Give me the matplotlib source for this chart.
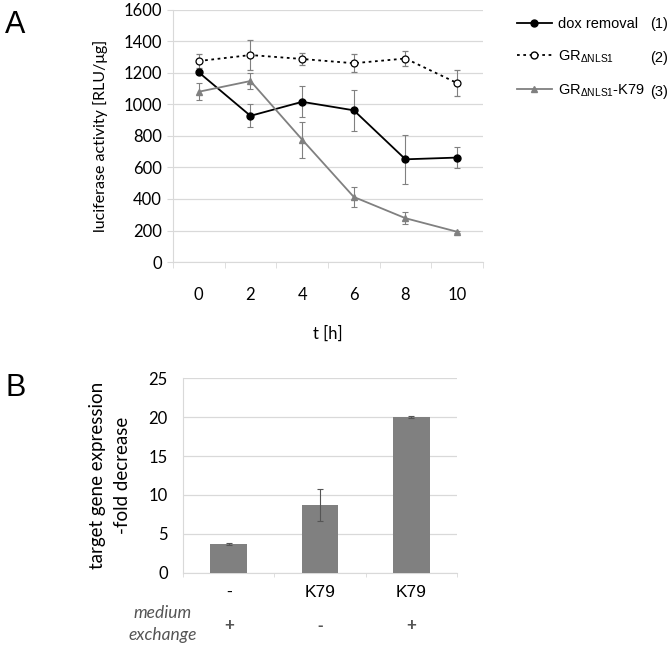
import matplotlib.pyplot as plt
from matplotlib.lines import Line2D

plt.rcParams['mathtext.fontset'] = 'custom'
plt.rcParams['mathtext.rm'] = 'Liberation Sans'
plt.rcParams['mathtext.it'] = 'Liberation Sans:italic'

# panel A data
hours = ['0', '2', '4', '6', '8', '10']
dox = [1204, 928, 1017, 963, 652, 663]
dox_err = [0, 72, 98, 130, 155, 65]
gr = [1276, 1314, 1289, 1262, 1292, 1136]
gr_err = [43, 95, 37, 57, 45, 80]
k79 = [1081, 1149, 777, 413, 278, 192]
k79_err = [55, 50, 115, 66, 38, 8]

# panel B data
bar_labels = ['-', 'K79', 'K79']
exchange = ['+', '-', '+']
fold = [3.7, 8.7, 20.0]
fold_err = [0.1, 2.0, 0.1]

grid_c = '#d9d9d9'
gray = '#808080'
tick_font = 'Lato'
arial = 'Liberation Sans'

fig = plt.figure(figsize=(6.72, 6.49), dpi=100)

# ---------- A ----------
ax = fig.add_axes([0.2574, 0.5963, 0.4613, 0.3883])
x = range(len(hours))
ax.errorbar(x, dox, yerr=dox_err, color='black', marker='o', ms=5, lw=1.3,
            ecolor=gray, elinewidth=0.8, capsize=2.5, capthick=0.8, zorder=3)
ax.errorbar(x, gr, yerr=gr_err, color='black', ls=(0, (1.5, 2)), marker='o', ms=5,
            mfc='white', mec='black', mew=0.9, lw=1.3,
            ecolor=gray, elinewidth=0.8, capsize=2.5, capthick=0.8, zorder=3)
ax.errorbar(x, k79, yerr=k79_err, color=gray, marker='^', ms=5, lw=1.3,
            ecolor=gray, elinewidth=0.8, capsize=2.5, capthick=0.8, zorder=3)

ax.set_xlim(-0.5, len(hours) - 0.5)
ax.set_ylim(0, 1600)
ax.set_yticks(range(0, 1601, 200))
ax.set_xticks(list(x))
ax.set_xticklabels(hours)
ax.set_xticks([i - 0.5 for i in range(len(hours) + 1)], minor=True)
ax.grid(axis='y', color=grid_c, lw=0.9)
ax.set_axisbelow(True)
for s in ['top', 'right']:
    ax.spines[s].set_visible(False)
ax.spines['left'].set_color(grid_c)
ax.spines['bottom'].set_color(grid_c)
ax.tick_params(axis='x', which='major', length=0, pad=18)
ax.tick_params(axis='x', which='minor', length=4, color=grid_c)
ax.tick_params(axis='y', length=4, color=grid_c, pad=4)
for t in ax.get_xticklabels() + ax.get_yticklabels():
    t.set_fontfamily(tick_font)
    t.set_fontsize(12)
ax.set_xlabel('t [h]', fontfamily=tick_font, fontsize=12, labelpad=16)
ax.set_ylabel('luciferase activity [RLU/μg]', fontfamily=tick_font, fontsize=11.5)
ax.yaxis.set_label_coords(-0.21, 0.5)

handles = [
    Line2D([], [], color='black', marker='o', ms=5, lw=1.3),
    Line2D([], [], color='black', ls=(0, (1.5, 2)), marker='o', ms=5, mfc='white', lw=1.3),
    Line2D([], [], color=gray, marker='^', ms=5, lw=1.3),
]
labels = ['dox removal', r'GR$_{\Delta\mathrm{NLS1}}$', r'GR$_{\Delta\mathrm{NLS1}}$-K79']
fig.legend(handles, labels, loc='upper left', bbox_to_anchor=(0.758, 0.985),
           frameon=False, prop={'family': arial, 'size': 10.5},
           handlelength=2.4, handletextpad=0.4, labelspacing=1.2, borderpad=0)
for i, n in enumerate(['(1)', '(2)', '(3)']):
    fig.text(0.967, 1 - (24 + 34 * i) / 649, n, family=arial, size=10.5,
             ha='left', va='center')

fig.text(0.008, 0.985, 'A', family=arial, size=22, va='top')

# ---------- B ----------
bx = fig.add_axes([0.2723, 0.1176, 0.4077, 0.2995])
bx.bar(range(len(fold)), fold, width=0.4, color=gray, zorder=3)
bx.errorbar(range(len(fold)), fold, yerr=fold_err, fmt='none', ecolor='#555555',
            elinewidth=0.8, capsize=2.5, capthick=0.8, zorder=4)
bx.set_xlim(-0.5, len(fold) - 0.5)
bx.set_ylim(0, 25)
bx.set_yticks(range(0, 26, 5))
bx.set_xticks(range(len(fold)))
bx.set_xticklabels(bar_labels, fontfamily=arial, fontsize=12.5)
bx.set_xticks([i - 0.5 for i in range(len(fold) + 1)], minor=True)
bx.grid(axis='y', color=grid_c, lw=0.9)
bx.set_axisbelow(True)
for s in ['top', 'right']:
    bx.spines[s].set_visible(False)
bx.spines['left'].set_color(grid_c)
bx.spines['bottom'].set_color(grid_c)
bx.tick_params(axis='x', which='major', length=0, pad=9)
bx.tick_params(axis='x', which='minor', length=3, color=grid_c)
bx.tick_params(axis='y', length=0, pad=11)
for t in bx.get_yticklabels():
    t.set_fontfamily(tick_font)
    t.set_fontsize(12)
bx.set_ylabel('target gene expression\n-fold decrease', fontfamily=tick_font,
              fontsize=13.5, linespacing=1.6)
bx.yaxis.set_label_coords(-0.19, 0.5)

for i, s in enumerate(exchange):
    bx.text(i, -0.27, s, transform=bx.get_xaxis_transform(), ha='center', va='center',
            family=arial, fontsize=12, color='#555555', fontweight='bold')
fig.text(163 / 672, 1 - 613 / 649, 'medium', family=tick_font, style='italic',
         size=12.5, color='#555555', ha='center', va='center')
fig.text(163 / 672, 1 - 635 / 649, 'exchange', family=tick_font, style='italic',
         size=12.5, color='#555555', ha='center', va='center')

fig.text(0.008, 1 - 373 / 649, 'B', family=arial, size=22, va='top')

fig.savefig('out.png', dpi=100)
